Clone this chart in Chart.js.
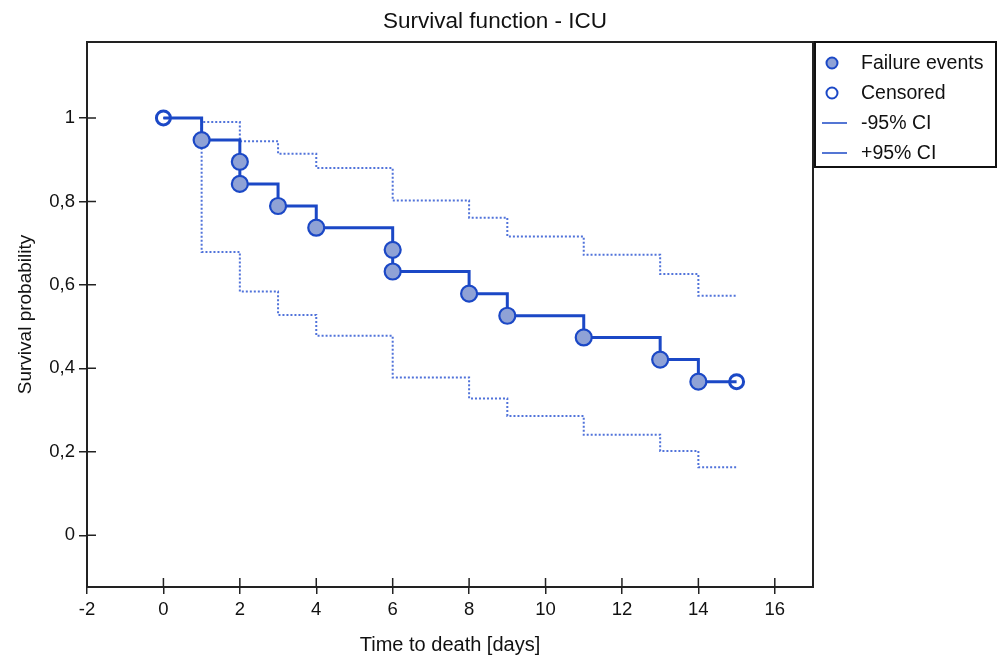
<!DOCTYPE html>
<html><head><meta charset="utf-8">
<script src="https://cdn.jsdelivr.net/npm/chart.js@4.4.1/dist/chart.umd.min.js"></script>
<style>html,body{margin:0;padding:0;background:#fff}#wrap{width:1000px;height:657px}</style>
</head><body><div id="wrap"><canvas id="c" width="1000" height="657"></canvas></div>
<script>
const chartTitle = 'Survival function - ICU';
const xAxisTitle = 'Time to death [days]';
const yAxisTitle = 'Survival probability';
const stepTimes = [0, 1, 2, 3, 4, 6, 8, 9, 11, 13, 14, 15];
const survival  = [1, 0.947, 0.842, 0.789, 0.737, 0.632, 0.579, 0.526, 0.474, 0.421, 0.368, 0.368];
const ciLower   = [1, 0.679, 0.584, 0.528, 0.478, 0.378, 0.328, 0.286, 0.241, 0.202, 0.163, 0.163];
const ciUpper   = [1, 0.990, 0.944, 0.914, 0.880, 0.802, 0.761, 0.716, 0.672, 0.626, 0.574, 0.574];
const failureTimes = [1, 2, 2, 3, 4, 6, 6, 8, 9, 11, 13, 14];
const failureSurv  = [0.947, 0.895, 0.842, 0.789, 0.737, 0.684, 0.632, 0.579, 0.526, 0.474, 0.421, 0.368];
const censoredTimes = [0, 15];
const censoredSurv  = [1, 0.368];
const xTicks = [-2, 0, 2, 4, 6, 8, 10, 12, 14, 16];
const xTickLabels = ['-2', '0', '2', '4', '6', '8', '10', '12', '14', '16'];
const yTicks = [0, 0.2, 0.4, 0.6, 0.8, 1];
const yTickLabels = ['0', '0,2', '0,4', '0,6', '0,8', '1'];
const legendLabels = ['Failure events', 'Censored', '-95% CI', '+95% CI'];

const BLUE = '#1b48c6';
const FILL = '#8fa2d6';
const CI = 'rgba(50,90,212,0.85)';
const FONT = '"Liberation Sans", Arial, sans-serif';
const TXT = '#111';

const pts = (xs, ys) => xs.map((x, i) => ({x: x, y: ys[i]}));

const framePlugin = {
  id: 'frame',
  afterDraw(chart) {
    const ctx = chart.ctx, a = chart.chartArea;
    const xs = chart.scales.x, ys = chart.scales.y;
    ctx.save();
    ctx.strokeStyle = '#222'; ctx.lineWidth = 2;
    ctx.strokeRect(a.left, a.top, a.right - a.left, a.bottom - a.top);
    ctx.lineWidth = 1.5;
    ctx.beginPath();
    xTicks.forEach(v => { const p = xs.getPixelForValue(v); ctx.moveTo(p, a.bottom); ctx.lineTo(p, a.bottom - 9); });
    yTicks.forEach(v => { const p = ys.getPixelForValue(v); ctx.moveTo(a.left, p); ctx.lineTo(a.left + 9, p); });
    ctx.stroke();
    ctx.fillStyle = TXT;
    ctx.font = '22.5px ' + FONT;
    ctx.textAlign = 'center'; ctx.textBaseline = 'middle';
    ctx.fillText(chartTitle, 495, 22);
    const lx = a.right + 2, ly = a.top, lw = 181, lh = 125;
    ctx.strokeStyle = '#111'; ctx.lineWidth = 2;
    ctx.strokeRect(lx, ly, lw, lh);
    const rows = [63, 93, 123, 153];
    ctx.font = '19.5px ' + FONT;
    ctx.textAlign = 'left';
    rows.forEach((ry, i) => {
      const sx = lx + 17;
      if (i === 0) {
        ctx.beginPath(); ctx.arc(sx, ry, 5.5, 0, Math.PI * 2);
        ctx.fillStyle = FILL; ctx.fill(); ctx.strokeStyle = BLUE; ctx.lineWidth = 2; ctx.stroke();
      } else if (i === 1) {
        ctx.beginPath(); ctx.arc(sx, ry, 5.5, 0, Math.PI * 2);
        ctx.strokeStyle = BLUE; ctx.lineWidth = 2; ctx.stroke();
      } else {
        ctx.beginPath(); ctx.moveTo(lx + 7, ry); ctx.lineTo(lx + 32, ry);
        ctx.strokeStyle = BLUE; ctx.lineWidth = 1.5; ctx.stroke();
      }
      ctx.fillStyle = TXT;
      ctx.fillText(legendLabels[i], lx + 46, ry + 1);
    });
    ctx.restore();
  }
};

new Chart(document.getElementById('c'), {
  type: 'line',
  data: {
    datasets: [
      { label: legendLabels[0], data: pts(failureTimes, failureSurv), showLine: false,
        pointRadius: 8, pointBackgroundColor: FILL, pointBorderColor: BLUE, pointBorderWidth: 2.2 },
      { label: legendLabels[1], data: pts(censoredTimes, censoredSurv), showLine: false,
        pointRadius: 7, pointBackgroundColor: 'rgba(0,0,0,0)', pointBorderColor: BLUE, pointBorderWidth: 3 },
      { label: 'KM', data: pts(stepTimes, survival), stepped: 'before', borderColor: BLUE,
        borderWidth: 3, pointRadius: 0, fill: false },
      { label: legendLabels[3], data: pts(stepTimes, ciUpper), stepped: 'before', borderColor: CI,
        borderWidth: 2, borderDash: [2, 2], pointRadius: 0, fill: false },
      { label: legendLabels[2], data: pts(stepTimes, ciLower), stepped: 'before', borderColor: CI,
        borderWidth: 2, borderDash: [2, 2], pointRadius: 0, fill: false }
    ]
  },
  options: {
    responsive: false,
    animation: false,
    events: [],
    layout: { padding: { top: 42, right: 187, left: 0, bottom: 0 } },
    plugins: { legend: { display: false }, title: { display: false }, tooltip: { enabled: false } },
    scales: {
      x: {
        type: 'linear', min: -2, max: 17,
        afterBuildTicks: s => { s.ticks = xTicks.map(v => ({value: v})); },
        afterFit: s => { s.height = 70; },
        ticks: { callback: (v, i) => xTickLabels[i], font: { size: 18.5, family: FONT }, color: TXT, padding: 5, maxRotation: 0, autoSkip: false },
        grid: { drawOnChartArea: false, drawTicks: true, tickLength: 7, color: '#222', lineWidth: 1.5 },
        border: { display: false },
        title: { display: true, text: xAxisTitle, font: { size: 20, family: FONT }, color: TXT, padding: { top: 0, bottom: 0 } }
      },
      y: {
        type: 'linear', min: -0.124, max: 1.182,
        afterBuildTicks: s => { s.ticks = yTicks.map(v => ({value: v})); },
        afterFit: s => { s.width = 87; },
        ticks: { callback: (v, i) => yTickLabels[i], font: { size: 18.5, family: FONT }, color: TXT, padding: 4, autoSkip: false },
        grid: { drawOnChartArea: false, drawTicks: true, tickLength: 8, color: '#222', lineWidth: 1.5 },
        border: { display: false },
        title: { display: true, text: yAxisTitle, font: { size: 19, family: FONT }, color: TXT, padding: { top: 14, bottom: 0 } }
      }
    }
  },
  plugins: [framePlugin]
});
</script></body></html>
